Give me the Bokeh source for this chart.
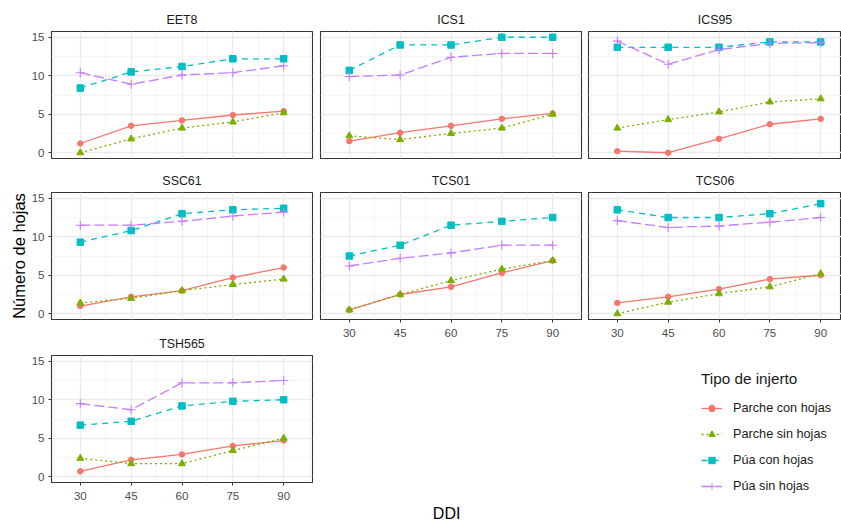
from bokeh.plotting import figure
from bokeh.layouts import row, column
from bokeh.models import FixedTicker, Range1d, Legend, LegendItem, Label
from bokeh.embed import file_html
from bokeh.resources import INLINE

# ---------------- data ----------------
DDI = [30, 45, 60, 75, 90]
X_TICKS = [30, 45, 60, 75, 90]
X_MINOR = [22.5, 37.5, 52.5, 67.5, 82.5, 97.5]
Y_TICKS = [0, 5, 10, 15]
Y_MINOR = [2.5, 7.5, 12.5]

SERIES = ["Parche con hojas", "Parche sin hojas", "Púa con hojas", "Púa sin hojas"]
Y_LABEL = "Número de hojas"
X_LABEL = "DDI"
LEGEND_TITLE = "Tipo de injerto"

parche_con_hojas = {
    "EET8":   [1.2, 3.5, 4.2, 4.9, 5.4],
    "ICS1":   [1.5, 2.6, 3.5, 4.4, 5.1],
    "ICS95":  [0.2, 0.0, 1.8, 3.7, 4.4],
    "SSC61":  [1.0, 2.2, 3.0, 4.7, 6.0],
    "TCS01":  [0.5, 2.5, 3.5, 5.3, 6.9],
    "TCS06":  [1.4, 2.2, 3.2, 4.5, 5.0],
    "TSH565": [0.7, 2.2, 2.9, 4.0, 4.7],
}
parche_sin_hojas = {
    "EET8":   [0.0, 1.8, 3.2, 4.0, 5.2],
    "ICS1":   [2.2, 1.7, 2.5, 3.2, 5.0],
    "ICS95":  [3.2, 4.3, 5.3, 6.6, 7.0],
    "SSC61":  [1.4, 2.0, 3.0, 3.8, 4.5],
    "TCS01":  [0.5, 2.5, 4.3, 5.8, 6.9],
    "TCS06":  [0.0, 1.5, 2.6, 3.5, 5.2],
    "TSH565": [2.4, 1.7, 1.7, 3.4, 5.0],
}
pua_con_hojas = {
    "EET8":   [8.4, 10.5, 11.2, 12.2, 12.2],
    "ICS1":   [10.7, 14.0, 14.0, 15.0, 15.0],
    "ICS95":  [13.7, 13.7, 13.7, 14.4, 14.4],
    "SSC61":  [9.3, 10.8, 13.0, 13.5, 13.7],
    "TCS01":  [7.5, 8.9, 11.5, 12.0, 12.5],
    "TCS06":  [13.5, 12.5, 12.5, 13.0, 14.3],
    "TSH565": [6.7, 7.2, 9.2, 9.8, 10.0],
}
pua_sin_hojas = {
    "EET8":   [10.4, 8.9, 10.1, 10.4, 11.3],
    "ICS1":   [9.9, 10.1, 12.4, 12.9, 12.9],
    "ICS95":  [14.5, 11.5, 13.4, 14.2, 14.3],
    "SSC61":  [11.5, 11.5, 12.0, 12.7, 13.2],
    "TCS01":  [6.2, 7.2, 7.9, 8.9, 8.9],
    "TCS06":  [12.1, 11.2, 11.4, 11.9, 12.5],
    "TSH565": [9.5, 8.7, 12.2, 12.2, 12.5],
}

DATA = [parche_con_hojas, parche_sin_hojas, pua_con_hojas, pua_sin_hojas]
COLORS = ["#F8766D", "#7CAE00", "#00BFC4", "#C77CFF"]
DASHES = ["solid", "2 3", "6 5", "10 4"]
MARKERS = ["circle", "triangle", "square", "cross"]
SIZES = [5.5, 7, 6.5, 9]

FONT = "Liberation Sans"
NAN = float("nan")
LW = 1.3


def style_axis(ax):
    ax.axis_line_color = None
    ax.major_tick_line_color = "#333333"
    ax.major_tick_line_width = 1
    ax.major_tick_out = 3
    ax.major_tick_in = 0
    ax.minor_tick_line_color = None
    ax.major_label_text_font = FONT
    ax.major_label_text_font_size = "11.5px"
    ax.major_label_text_color = "#4d4d4d"
    ax.major_label_standoff = 3


def make_panel(name, w, h, ml, mr, mt, mb, x_end, show_x, show_y, ylabel=None):
    p = figure(width=w, height=h, output_backend="svg", toolbar_location=None,
               x_range=Range1d(21.5, x_end), y_range=Range1d(-0.75, 15.75),
               x_axis_location="below" if show_x else None,
               y_axis_location="left" if show_y else None,
               min_border_left=ml, min_border_right=mr,
               min_border_top=mt, min_border_bottom=mb, title=name)
    p.title.align = "center"
    p.title.text_font = FONT
    p.title.text_font_size = "12.4px"
    p.title.text_font_style = "normal"
    p.title.text_color = "#1a1a1a"
    p.title.standoff = 9
    p.outline_line_color = "#333333"
    p.outline_line_width = 1.1
    p.background_fill_color = "white"
    p.border_fill_color = "white"

    xt = FixedTicker(ticks=X_TICKS, minor_ticks=X_MINOR)
    yt = FixedTicker(ticks=Y_TICKS, minor_ticks=Y_MINOR)
    for g, t in ((p.xgrid, xt), (p.ygrid, yt)):
        g.ticker = t
        g.grid_line_color = "#ebebeb"
        g.grid_line_width = 1.4
        g.minor_grid_line_color = "#f3f3f3"
        g.minor_grid_line_width = 0.8
    if show_x:
        p.xaxis.ticker = xt
        style_axis(p.xaxis[0])
        p.xaxis[0].major_label_standoff = 5
    if show_y:
        p.yaxis.ticker = yt
        style_axis(p.yaxis[0])
        if ylabel:
            ax = p.yaxis[0]
            ax.axis_label = ylabel
            ax.axis_label_text_font = FONT
            ax.axis_label_text_font_size = "16.5px"
            ax.axis_label_text_font_style = "normal"
            ax.axis_label_text_color = "black"
            ax.axis_label_standoff = 1

    for d, c, dash in zip(DATA, COLORS, DASHES):
        p.line(DDI, d[name], line_color=c, line_width=LW, line_dash=dash)
    for d, c, m, s in zip(DATA, COLORS, MARKERS, SIZES):
        if m == "cross":
            p.scatter(DDI, d[name], marker=m, size=s, line_color=c, line_width=1.1)
        else:
            p.scatter(DDI, d[name], marker=m, size=s, fill_color=c, line_color=c)
    return p


X_END_WIDE = 98.5
X_END_C3 = 21.5 + (98.5 - 21.5) * 253 / 261

# column 1
f_eet8 = make_panel("EET8", 315, 165, 51, 3, 31, 7, X_END_WIDE, False, True)
f_ssc61 = make_panel("SSC61", 315, 162, 51, 3, 27, 8, X_END_WIDE, False, True, Y_LABEL)
f_tsh = make_panel("TSH565", 315, 194, 51, 3, 28, 39, X_END_WIDE, True, True)
# column 2
f_ics1 = make_panel("ICS1", 269, 165, 5, 3, 31, 7, X_END_WIDE, False, False)
f_tcs01 = make_panel("TCS01", 269, 178, 5, 3, 27, 24, X_END_WIDE, True, False)
# column 3
f_ics95 = make_panel("ICS95", 257, 165, 4, 0, 31, 7, X_END_C3, False, False)
f_tcs06 = make_panel("TCS06", 257, 178, 4, 0, 27, 24, X_END_C3, True, False)

# x-axis title
f_ddi = figure(width=269, height=178, output_backend="svg", toolbar_location=None,
               x_range=Range1d(0, 269), y_range=Range1d(0, 178), min_border=0,
               x_axis_location=None, y_axis_location=None)
f_ddi.outline_line_color = None
f_ddi.xgrid.visible = False
f_ddi.ygrid.visible = False
f_ddi.add_layout(Label(x=130, y=8.5, text=X_LABEL, text_align="center", text_baseline="middle",
                       text_font=FONT, text_font_size="16px", text_color="black"))

# legend
f_leg = figure(width=257, height=178, output_backend="svg", toolbar_location=None,
               x_range=Range1d(0, 1), y_range=Range1d(0, 1), min_border=0,
               x_axis_location=None, y_axis_location=None)
f_leg.outline_line_color = None
f_leg.xgrid.visible = False
f_leg.ygrid.visible = False
items = []
for lab, c, dash, m in zip(SERIES, COLORS, DASHES, MARKERS):
    lr = f_leg.line([NAN], [NAN], line_color=c, line_width=LW, line_dash=dash)
    if m == "cross":
        sr = f_leg.scatter([NAN], [NAN], marker=m, line_color=c, line_width=1.1)
    else:
        sr = f_leg.scatter([NAN], [NAN], marker=m, fill_color=c, line_color=c)
    items.append(LegendItem(label=lab, renderers=[lr, sr]))
legend = Legend(items=items, location=(113, 27), title=LEGEND_TITLE,
                title_text_font=FONT, title_text_font_size="15.3px",
                title_text_font_style="normal", title_text_color="#1a1a1a",
                title_standoff=12,
                label_text_font=FONT, label_text_font_size="12.7px", label_text_color="#1a1a1a",
                glyph_width=21, glyph_height=16, label_height=16, label_standoff=11,
                spacing=10, padding=0, margin=0,
                border_line_color=None, background_fill_alpha=0)
f_leg.add_layout(legend)

layout = row(column(f_eet8, f_ssc61, f_tsh),
             column(f_ics1, f_tcs01, f_ddi),
             column(f_ics95, f_tcs06, f_leg))

open("out.html", "w").write(file_html(layout, INLINE))
